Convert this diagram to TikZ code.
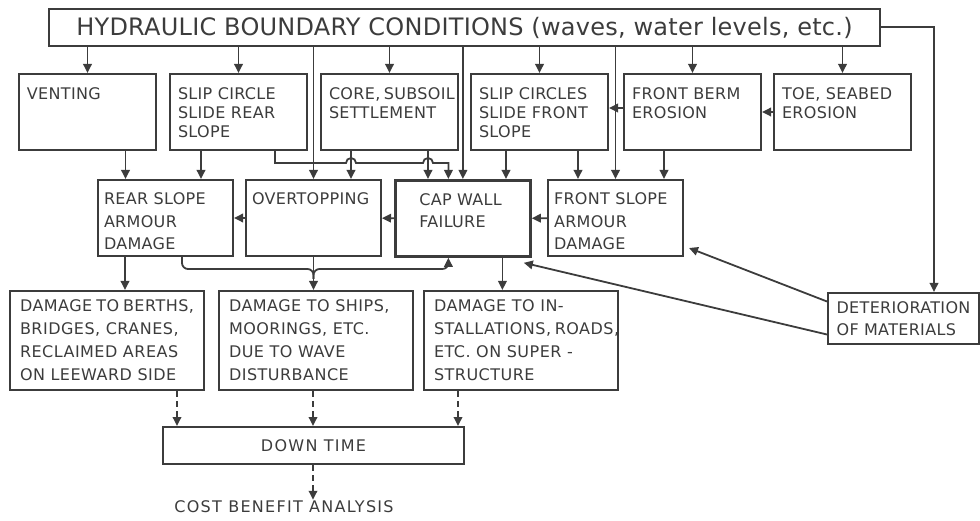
\documentclass[tikz,border=0pt]{standalone}
\usepackage{fontspec}
\setmainfont{DejaVu Sans}[LetterSpace=2]
\usepackage{tikz}
\usetikzlibrary{arrows.meta,positioning,calc}

\definecolor{ink}{HTML}{3C3C3C}

\begin{document}
\begin{tikzpicture}[x=1pt, y=-1pt, color=ink, >={Triangle[length=9pt,width=8.5pt]},
    box/.style={draw, anchor=north west, inner sep=0pt, line width=2pt},
    hbcbox/.style={box, minimum width=831pt, minimum height=37pt, font=\fontsize{24}{28}\selectfont\addfontfeature{LetterSpace=1}},
    rowone/.style={box, minimum width=137pt, minimum height=76pt, font=\fontsize{16}{19}\selectfont,
        execute at begin node={\begin{minipage}[t][48pt][t]{121pt}\raggedright\hyphenpenalty=10000},
        execute at end node={\end{minipage}}},
    rowtwo/.style={box, minimum width=135pt, minimum height=76pt, font=\fontsize{16}{22.5}\selectfont,
        execute at begin node={\begin{minipage}[t][50pt][t]{123pt}\raggedright\hyphenpenalty=10000},
        execute at end node={\end{minipage}}},
    rowthree/.style={box, minimum width=194pt, minimum height=99pt, font=\fontsize{16}{23}\selectfont\addfontfeature{LetterSpace=3},
        execute at begin node={\begin{minipage}[t][81pt][t]{174pt}\raggedright\hyphenpenalty=10000},
        execute at end node={\end{minipage}}},
    wide/.style={font=\fontsize{16}{19}\selectfont\addfontfeature{LetterSpace=8}},
    flow/.style={->, line width=1.8pt},
    dashflow/.style={->, line width=1.8pt, dash pattern=on 6pt off 4pt}]

    \useasboundingbox (0,0) rectangle (980,521);

    \node[hbcbox] (hbc) at (48,8) {HYDRAULIC BOUNDARY CONDITIONS (waves, water levels, etc.)};

    % first row: causes
    \node[rowone] (vent) at (18,73) {VENTING};
    \node[rowone] (slr) at (169,73) {SLIP CIRCLE\\SLIDE REAR\\SLOPE};
    \node[rowone] (core) at (320,73) {CORE,~SUBSOIL\\SETTLEMENT};
    \node[rowone] (scf) at (470,73) {SLIP~CIRCLES\\SLIDE FRONT\\SLOPE};
    \node[rowone] (fbe) at (623,73) {FRONT BERM\\EROSION};
    \node[rowone] (toe) at (773,73) {TOE,~SEABED\\EROSION};

    % second row: damage to structure
    \node[rowtwo] (rsa) at (97,179) {REAR SLOPE\\ARMOUR\\DAMAGE};
    \node[rowtwo] (ovt) at (245,179) {OVERTOPPING};
    \node[rowtwo, line width=2.8pt] (cwf) at (394,179) {\hspace*{18pt}CAP WALL\\\hspace*{18pt}FAILURE};
    \node[rowtwo] (fsa) at (547,179) {FRONT SLOPE\\ARMOUR\\DAMAGE};

    % third row: consequences
    \node[rowthree] (dtb) at (9,290) {DAMAGE~TO~BERTHS,\\BRIDGES,~CRANES,\\RECLAIMED~AREAS\\ON~LEEWARD~SIDE};
    \node[rowthree] (dts) at (218,290) {DAMAGE~TO~SHIPS,\\MOORINGS, ETC.\\DUE TO WAVE\\DISTURBANCE};
    \node[rowthree] (dti) at (423,290) {DAMAGE TO IN-\\STALLATIONS,~ROADS,\\ETC. ON SUPER -\\STRUCTURE};

    \node[box, minimum width=151pt, minimum height=51pt, align=left, font=\fontsize{16}{22}\selectfont] (det) at (827,292) {DETERIORATION\\OF MATERIALS};

    \node[box, wide, minimum width=301pt, minimum height=37pt] (dwn) at (162,426) {DOWN TIME};
    \node[wide, inner sep=1pt] (cba) at (284,507) {COST BENEFIT ANALYSIS};

    % connector ends
    \coordinate (v1) at ([xshift=38pt]vent.south);
    \coordinate (s1) at ([xshift=-37.5pt]slr.south);
    \coordinate (s2) at ([xshift=36.5pt]slr.south);
    \coordinate (k1) at ([xshift=-38.5pt]core.south);
    \coordinate (k2) at ([xshift=38.5pt]core.south);
    \coordinate (f1) at ([xshift=-33.5pt]scf.south);
    \coordinate (f2) at ([xshift=38.5pt]scf.south);
    \coordinate (b1) at ([xshift=-28.5pt]fbe.south);
    \coordinate (c1) at ([xshift=-14.5pt]cwf.north);
    \coordinate (c2) at ([xshift=-14.5pt]cwf.south);
    \coordinate (c3) at ([xshift=39.5pt]cwf.south);
    \coordinate (r1) at ([xshift=-40.5pt]rsa.south);
    \coordinate (r2) at ([xshift=16.5pt]rsa.south);
    \coordinate (jn) at ([yshift=-12pt]ovt.south);
    \coordinate (d0) at ([yshift=0.5pt]hbc.east);
    \coordinate (d1) at ([xshift=30.5pt]det.north);
    \coordinate (g1) at ([xshift=70pt]dtb.south);
    \coordinate (g2) at ([xshift=-0.5pt]dwn.north);
    \coordinate (g3) at ([xshift=-63pt]dti.south);
    \coordinate (g4) at ([xshift=-0.5pt]dwn.south);

    % boundary conditions
    \foreach \n in {vent,slr,core,scf,fbe,toe,ovt,cwf,fsa}
        \draw[flow] (\n |- hbc.south) -- (\n.north);
    \draw[flow] (d0) -| (d1);

    \draw[flow] (toe) -- (fbe);
    \draw[flow] ([yshift=4pt]fbe.west) -- ([yshift=4pt]scf.east);

    % first row to second row
    \draw[flow] (v1) -- (v1 |- rsa.north);
    \draw[flow] (s1) -- (s1 |- rsa.north);
    \draw[flow] (k1) -- (k1 |- ovt.north);
    \draw[flow] (k2) -- (k2 |- cwf.north);
    \draw[flow] (f1) -- (f1 |- cwf.north);
    \draw[flow] (f2) -- (f2 |- fsa.north);
    \draw[flow] (b1) -- (b1 |- fsa.north);
    \draw[flow] (s2) -- ++(0,12) coordinate (h0)
        -- ($(h0 -| k1)+(-5pt,0)$) arc[start angle=180, end angle=0, radius=5pt]
        -- ($(h0 -| k2)+(-5pt,0)$) arc[start angle=180, end angle=0, radius=5pt]
        -- (h0 -| c1) -- (c1);

    \draw[flow] (fsa) -- (cwf);
    \draw[flow] (cwf) -- (ovt);
    \draw[flow] (ovt) -- (rsa);

    % second row to third row
    \draw[flow] (r1) -- (r1 |- dtb.north);
    \draw[flow] (ovt.south) -- (ovt.south |- dts.north);
    \draw[line width=1.8pt, rounded corners=6pt] (r2) |- (jn) -- ++(0,10);
    \draw[<-, line width=1.8pt, rounded corners=6pt] (c2) |- (jn) -- ++(0,10);
    \draw[flow] (c3) -- (c3 |- dti.north);

    \draw[flow] ([yshift=17pt]det.west) -- ([shift={(5pt,9pt)}]fsa.south east);
    \draw[flow] ([yshift=-16pt]det.west) -- ([shift={(-8pt,-5pt)}]cwf.south east);

    % down time
    \draw[dashflow] (g1) -- (g1 |- dwn.north);
    \draw[dashflow] (g2 |- dts.south) -- (g2);
    \draw[dashflow] (g3) -- (g3 |- dwn.north);
    \draw[dashflow] (g4) -- (g4 |- cba.north);
\end{tikzpicture}
\end{document}
